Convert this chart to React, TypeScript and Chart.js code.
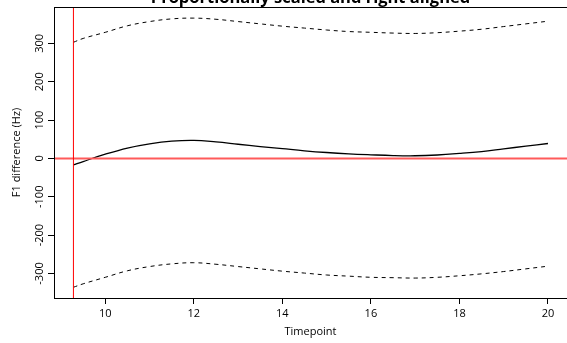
import React, { useEffect, useRef } from 'react';
import { Chart, registerables } from 'chart.js';

Chart.register(...registerables);

const TITLE = 'Proportionally scaled and right aligned';
const X_LABEL = 'Timepoint';
const Y_LABEL = 'F1 difference (Hz)';

const timepoints = [9.28, 9.5, 10, 10.5, 11, 11.5, 12, 12.5, 13, 13.5, 14, 14.5, 15, 15.5, 16, 16.5, 17, 17.5, 18, 18.5, 19, 19.5, 20];
const fitValues = [-17, -8, 11, 27, 38, 45, 47, 43, 37, 31, 25.5, 20, 15.5, 12, 9.5, 7.5, 7, 9, 13, 18, 25, 32, 39];
const upperCI = [303, 313, 329, 346, 357, 364, 366, 363, 357, 351, 345, 340, 335, 331, 329, 327, 326, 328, 332, 337, 344, 351, 358];
const lowerCI = [-336, -327, -310, -293, -282, -275, -272, -276, -282, -288, -294, -299, -304, -307, -310, -311, -312, -310, -306, -301, -295, -288, -281];

const onsetTimepoint = 9.28;
const referenceLevel = 0;
const xRange = [8.841, 20.43];
const yRange = [-364, 395];
const xStep = 2;
const yStep = 100;

const FONT = 'Open Sans';

const boxPlugin = {
  id: 'rbox',
  afterDatasetsDraw(chart: any) {
    const { ctx, chartArea } = chart;
    const l = Math.round(chartArea.left) + 0.5;
    const t = Math.round(chartArea.top) + 0.5;
    const b = Math.round(chartArea.bottom) + 0.5;
    const r = Math.round(chartArea.right) + 0.5;
    ctx.save();
    ctx.strokeStyle = '#000';
    ctx.lineWidth = 1;
    ctx.strokeRect(l, t, r - l, b - t);
    ctx.restore();
  },
};

export default function App() {
  const ref = useRef<HTMLCanvasElement | null>(null);
  useEffect(() => {
    if (!ref.current) return;
    const pts = (ys: number[]) => timepoints.map((x, i) => ({ x, y: ys[i] }));
    const chart = new Chart(ref.current, {
      type: 'line',
      data: {
        datasets: [
          {
            data: [{ x: onsetTimepoint, y: -10000 }, { x: onsetTimepoint, y: 10000 }],
            borderColor: '#ff0000',
            borderWidth: 1,
            pointRadius: 0,
            tension: 0,
          },
          {
            data: [{ x: 0, y: referenceLevel }, { x: 100, y: referenceLevel }],
            borderColor: '#ff5a5a',
            borderWidth: 2,
            pointRadius: 0,
            tension: 0,
          },
          {
            data: pts(upperCI),
            borderColor: '#000',
            borderWidth: 1,
            borderDash: [4, 4],
            pointRadius: 0,
            tension: 0.4,
          },
          {
            data: pts(lowerCI),
            borderColor: '#000',
            borderWidth: 1,
            borderDash: [4, 4],
            pointRadius: 0,
            tension: 0.4,
          },
          {
            data: pts(fitValues),
            borderColor: '#000',
            borderWidth: 1.3,
            pointRadius: 0,
            tension: 0.4,
          },
        ],
      },
      options: {
        animation: false,
        responsive: true,
        maintainAspectRatio: false,
        layout: { padding: 0 },
        plugins: {
          legend: { display: false },
          tooltip: { enabled: false },
          title: {
            display: true,
            text: TITLE,
            fullSize: false,
            color: '#000',
            font: { family: FONT, size: 16.5, weight: 'bold' },
            padding: { top: -11.8, bottom: -1.0 },
          },
        },
        scales: {
          x: {
            type: 'linear',
            min: xRange[0],
            max: xRange[1],
            afterFit: (s: any) => { s.height = 45; },
            border: { display: true, color: '#000', width: 1 },
            grid: { drawOnChartArea: false, drawTicks: true, tickLength: 6, color: '#000' },
            ticks: {
              stepSize: xStep,
              includeBounds: false,
              color: '#000',
              padding: 3,
              maxRotation: 0,
              font: { family: FONT, size: 11 },
            },
            title: {
              display: true,
              text: X_LABEL,
              color: '#000',
              font: { family: FONT, size: 11 },
              padding: { top: 0, bottom: 4.4 },
            },
          },
          y: {
            type: 'linear',
            min: yRange[0],
            max: yRange[1],
            afterFit: (s: any) => { s.width = 54; },
            border: { display: true, color: '#000', width: 1 },
            grid: { drawOnChartArea: false, drawTicks: true, tickLength: 6, color: '#000' },
            ticks: {
              stepSize: yStep,
              includeBounds: false,
              color: '#000',
              minRotation: 90,
              maxRotation: 90,
              crossAlign: 'center',
              padding: -3,
              font: { family: FONT, size: 11 },
            },
            title: {
              display: true,
              text: Y_LABEL,
              color: '#000',
              font: { family: FONT, size: 11 },
              padding: { top: 10.5, bottom: 0 },
            },
          },
        },
      },
      plugins: [boxPlugin],
    } as any);
    return () => chart.destroy();
  }, []);
  return (
    <div style={{ position: 'absolute', left: 0, top: 0, width: 567, height: 343 }}>
      <canvas ref={ref} />
    </div>
  );
}
